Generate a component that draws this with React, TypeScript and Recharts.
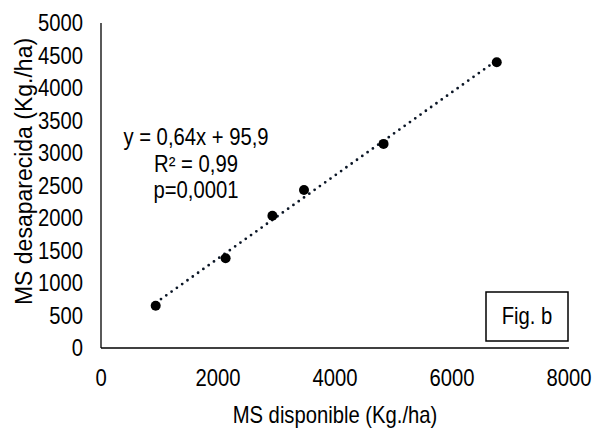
import React from 'react';
import { ScatterChart, Scatter, XAxis, YAxis } from 'recharts';

// MS disponible (x) vs MS desaparecida (y), kg/ha
const msDisponible = [935, 2130, 2930, 3470, 4830, 6765];
const msDesaparecida = [650, 1380, 2035, 2430, 3140, 4395];
const xTicks = [0, 2000, 4000, 6000, 8000];
const yTicks = [0, 500, 1000, 1500, 2000, 2500, 3000, 3500, 4000, 4500, 5000];

// regression from the figure
const slope = 0.64;
const intercept = 95.9;
const equationLines = ['y = 0,64x + 95,9', 'R² = 0,99', 'p=0,0001'];
const figLabel = 'Fig. b';
const xTitle = 'MS disponible (Kg./ha)';
const yTitle = 'MS desaparecida (Kg./ha)';

const points = msDisponible.map((x, i) => ({ x, y: msDesaparecida[i] }));
const xMin = Math.min(...msDisponible);
const xMax = Math.max(...msDisponible);
const trend = [xMin, xMax].map((x) => ({ x, y: slope * x + intercept }));

// narrow Arial look: Liberation Sans squeezed horizontally
const font = '"Liberation Sans", Arial, sans-serif';
const FS = 23;
const SX = 0.88;
const txt = { fontFamily: font, fontSize: FS, fill: '#000' };

const YTick = (props: any) => (
  <text transform={`translate(${props.x},${props.y}) scale(${SX},1)`} textAnchor="end" dy="0.36em" style={txt}>
    {props.payload.value}
  </text>
);

const XTick = (props: any) => (
  <text transform={`translate(${props.x},${props.y}) scale(${SX},1)`} textAnchor="middle" dy="0.71em" style={txt}>
    {props.payload.value}
  </text>
);

const XTitle = (props: any) => {
  const vb = props.viewBox || { x: 0, y: 0, width: 0, height: 0 };
  return (
    <text transform={`translate(${vb.x + vb.width / 2},${vb.y + vb.height - 5}) scale(${SX},1)`} textAnchor="middle" style={txt}>
      {xTitle}
    </text>
  );
};

// the y title in the original is set at normal width and sits a bit above centre
const YTitle = (props: any) => {
  const vb = props.viewBox || { x: 0, y: 0, width: 0, height: 0 };
  return (
    <text transform={`translate(${vb.x + 32},${vb.y + vb.height / 2 - 14}) rotate(-90)`} textAnchor="middle" style={txt}>
      {yTitle}
    </text>
  );
};

const Dot = (props: any) => <circle cx={props.cx} cy={props.cy} r={5} fill="#000" />;
const NoDot = () => <g />;

const App: React.FC = () => {
  return (
    <div style={{ position: 'absolute', left: 0, top: 0, width: 596, height: 428, background: '#fff' }}>
      <ScatterChart width={596} height={428} margin={{ top: 23, right: 27, left: 0, bottom: 0 }}>
        <XAxis
          type="number"
          dataKey="x"
          domain={[0, 8000]}
          ticks={xTicks}
          tickLine={false}
          tickSize={0}
          tickMargin={22}
          height={80}
          axisLine={{ stroke: '#000', strokeWidth: 1.3 }}
          tick={<XTick />}
          label={<XTitle />}
        />
        <YAxis
          type="number"
          dataKey="y"
          domain={[0, 5000]}
          ticks={yTicks}
          tickLine={false}
          tickSize={0}
          tickMargin={18}
          width={101}
          axisLine={{ stroke: '#000', strokeWidth: 1.3 }}
          tick={<YTick />}
          label={<YTitle />}
        />
        <Scatter
          data={trend}
          line={{ stroke: '#0b1626', strokeWidth: 2.8, strokeDasharray: '0 6.5', strokeLinecap: 'round' }}
          shape={NoDot}
          isAnimationActive={false}
        />
        <Scatter data={points} shape={Dot} fill="#000" isAnimationActive={false} />
      </ScatterChart>
      <svg width={596} height={428} style={{ position: 'absolute', left: 0, top: 0, pointerEvents: 'none' }}>
        {equationLines.map((t, i) => (
          <text key={t} transform={`translate(196,${145 + i * 26.5}) scale(${SX},1)`} textAnchor="middle" style={txt}>
            {t}
          </text>
        ))}
        <rect x={486} y={292} width={82} height={49} fill="#fff" stroke="#000" strokeWidth={1.5} />
        <text transform={`translate(527,324) scale(${SX},1)`} textAnchor="middle" style={txt}>
          {figLabel}
        </text>
      </svg>
    </div>
  );
};

export default App;
